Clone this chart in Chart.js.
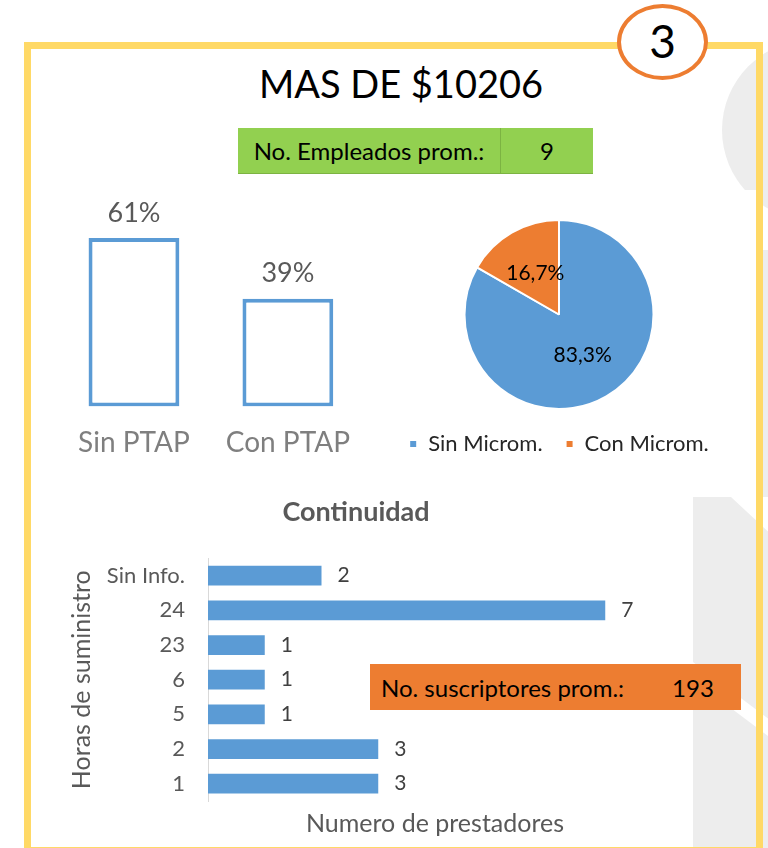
<!DOCTYPE html>
<html>
<head>
<meta charset="utf-8">
<script src="https://cdn.jsdelivr.net/npm/chart.js@4.4.0/dist/chart.umd.min.js"></script>
<style>
  body { margin: 0; width: 768px; height: 848px; position: relative; overflow: hidden; background: #fff; font-family: Lato, sans-serif; }
  .abs { position: absolute; }
  .grey { background: #ededed; }
  .white { background: #fff; }
  #frame { left: 24px; top: 42px; width: 739px; height: 812px; border: 7px solid #FFD966; box-sizing: border-box; }
  #badge { left: 617px; top: 4px; width: 91px; height: 76px; border: 4px solid #ED7D31; border-radius: 50%; background: #fff; box-sizing: border-box;
           font-size: 46px; line-height: 66px; text-align: center; color: #000; }
  #title { left: 0; top: 60px; width: 802px; text-align: center; font-size: 38px; color: #000; }
  .box { display: flex; height: 46px; box-sizing: border-box; font-size: 24px; color: #000; align-items: center; }
  #green { left: 238px; top: 128px; width: 355px; background: #92D050; border-bottom: 1px solid #7cb342; }
  #green .c1 { width: 262px; text-align: center; border-right: 1px solid #7cb342; height: 100%; line-height: 45px; }
  #green .c2 { flex: 1; text-align: center; }
  #orange { left: 370px; top: 664px; width: 371px; background: #ED7D31; }
  #orange .c1 { width: 275px; padding-left: 11px; box-sizing: border-box; }
  #orange .c2 { flex: 1; text-align: center; }
  canvas { position: absolute; }
</style>
</head>
<body>
<!-- background decoration -->
<div class="abs" style="left:700px;top:40px;width:68px;height:150px;overflow:hidden;">
  <div class="abs grey" style="left:22px;top:0px;width:180px;height:180px;border-radius:50%;"></div>
</div>
<div class="abs" style="left:756px;top:40px;width:12px;height:180px;overflow:hidden;">
  <div class="abs grey" style="left:-34px;top:0px;width:180px;height:180px;border-radius:50%;"></div>
</div>
<div class="abs grey" style="left:756px;top:250px;width:12px;height:598px;"></div>
<div class="abs grey" style="left:693px;top:497px;width:75px;height:351px;overflow:hidden;">
  <div class="abs white" style="left:38px;top:-60px;width:120px;height:60px;transform-origin:0 100%;transform:rotate(43deg);"></div>
  <div class="abs white" style="left:-20px;top:150px;width:150px;height:14px;transform-origin:0 0;transform:rotate(37deg);"></div>
</div>

<div id="frame" class="abs"></div>
<div id="badge" class="abs">3</div>
<div id="title" class="abs">MAS DE $10206</div>
<div id="green" class="abs box"><div class="c1">No. Empleados prom.:</div><div class="c2">9</div></div>

<canvas id="ptap" style="left:57px;top:180px;"></canvas>
<canvas id="microm" style="left:349px;top:219px;"></canvas>
<canvas id="cont" style="left:50px;top:490px;"></canvas>

<div id="orange" class="abs box"><div class="c1">No. suscriptores prom.:</div><div class="c2">193</div></div>

<script>
// Data
const ptapLabels = ['Sin PTAP', 'Con PTAP'];
const ptapValues = [61, 39];

const micromLabels = ['Sin Microm.', 'Con Microm.'];
const micromValues = [83.3, 16.7];

const horasLabels = ['Sin Info.', '24', '23', '6', '5', '2', '1'];
const prestadores = [2, 7, 1, 1, 1, 3, 3];

const BLUE = '#5B9BD5';
const ORANGE = '#ED7D31';

Chart.defaults.font.family = 'Lato';
Chart.defaults.animation = false;
Chart.defaults.responsive = false;

// Draw values next to each mark of the first dataset
const valueLabels = {
    id: 'valueLabels',
    afterDatasetsDraw(chart, args, opts) {
        if (!opts.draw) return;
        const ctx = chart.ctx;
        const meta = chart.getDatasetMeta(0);
        ctx.save();
        ctx.font = opts.font;
        ctx.fillStyle = opts.color;
        meta.data.forEach((el, i) => opts.draw(ctx, el, chart.data.datasets[0].data[i]));
        ctx.restore();
    }
};
Chart.register(valueLabels);

function setSize(id, w, h) {
    const c = document.getElementById(id);
    c.width = w;
    c.height = h;
    c.style.width = w + 'px';
    c.style.height = h + 'px';
    return c;
}

// PTAP bars
new Chart(setSize('ptap', 313, 300), {
    type: 'bar',
    data: {
        labels: ptapLabels,
        datasets: [{
            data: ptapValues,
            backgroundColor: '#ffffff',
            borderColor: BLUE,
            borderWidth: 4,
            borderSkipped: false,
            barPercentage: 0.59,
            categoryPercentage: 1
        }]
    },
    options: {
        layout: { padding: 0 },
        plugins: {
            legend: { display: false },
            tooltip: { enabled: false },
            valueLabels: {
                font: '27px Lato',
                color: '#595959',
                draw: (ctx, el, v) => {
                    ctx.textAlign = 'center';
                    ctx.textBaseline = 'middle';
                    ctx.fillText(v + '%', el.x, el.y - 25);
                }
            }
        },
        scales: {
            x: {
                grid: { display: false, drawTicks: false },
                border: { display: false },
                ticks: { color: '#7f7f7f', font: { size: 28 }, padding: 20 }
            },
            y: { display: false, min: 0, max: 82 }
        }
    }
});

// Microm pie
new Chart(setSize('microm', 420, 246), {
    type: 'pie',
    data: {
        labels: micromLabels,
        datasets: [{
            data: micromValues,
            backgroundColor: [BLUE, ORANGE],
            borderColor: '#ffffff',
            borderWidth: 2
        }]
    },
    options: {
        layout: { padding: 0 },
        plugins: {
            legend: {
                position: 'bottom',
                labels: { boxWidth: 8, boxHeight: 8, color: '#262626', font: { size: 22 }, padding: 23 }
            },
            tooltip: { enabled: false },
            valueLabels: {
                font: '21px Lato',
                color: '#000000',
                draw: (ctx, el, v) => {
                    const p = el.tooltipPosition();
                    ctx.textAlign = 'center';
                    ctx.textBaseline = 'middle';
                    ctx.fillText(v.toFixed(1).replace('.', ',') + '%', p.x, p.y);
                }
            }
        }
    }
});

// Continuidad horizontal bars
new Chart(setSize('cont', 622, 350), {
    type: 'bar',
    data: {
        labels: horasLabels,
        datasets: [{
            data: prestadores,
            backgroundColor: BLUE,
            barPercentage: 0.57,
            categoryPercentage: 1
        }]
    },
    options: {
        indexAxis: 'y',
        layout: { padding: { right: 10 } },
        plugins: {
            legend: { display: false },
            tooltip: { enabled: false },
            title: {
                display: true,
                text: 'Continuidad',
                color: '#595959',
                font: { size: 27, weight: 'bold' },
                padding: { top: 6, bottom: 30 }
            },
            valueLabels: {
                font: '21px Lato',
                color: '#404040',
                draw: (ctx, el, v) => {
                    ctx.textAlign = 'left';
                    ctx.textBaseline = 'middle';
                    ctx.fillText(v, el.x + 16, el.y);
                }
            }
        },
        scales: {
            x: {
                min: 0,
                max: 8,
                grid: { display: false, drawTicks: false },
                border: { display: false },
                ticks: { display: false },
                title: {
                    display: true,
                    text: 'Numero de prestadores',
                    color: '#595959',
                    font: { size: 25 },
                    padding: { top: 8, bottom: 1 }
                }
            },
            y: {
                grid: { display: false, drawTicks: false },
                border: { color: '#d9d9d9', width: 1 },
                ticks: { color: '#595959', font: { size: 22 }, padding: 23 },
                title: {
                    display: true,
                    text: 'Horas de suministro',
                    color: '#595959',
                    font: { size: 25 },
                    padding: { top: 17, bottom: 0 }
                },
                afterFit: (scale) => { scale.width = 158; }
            }
        }
    }
});
</script>
</body>
</html>
